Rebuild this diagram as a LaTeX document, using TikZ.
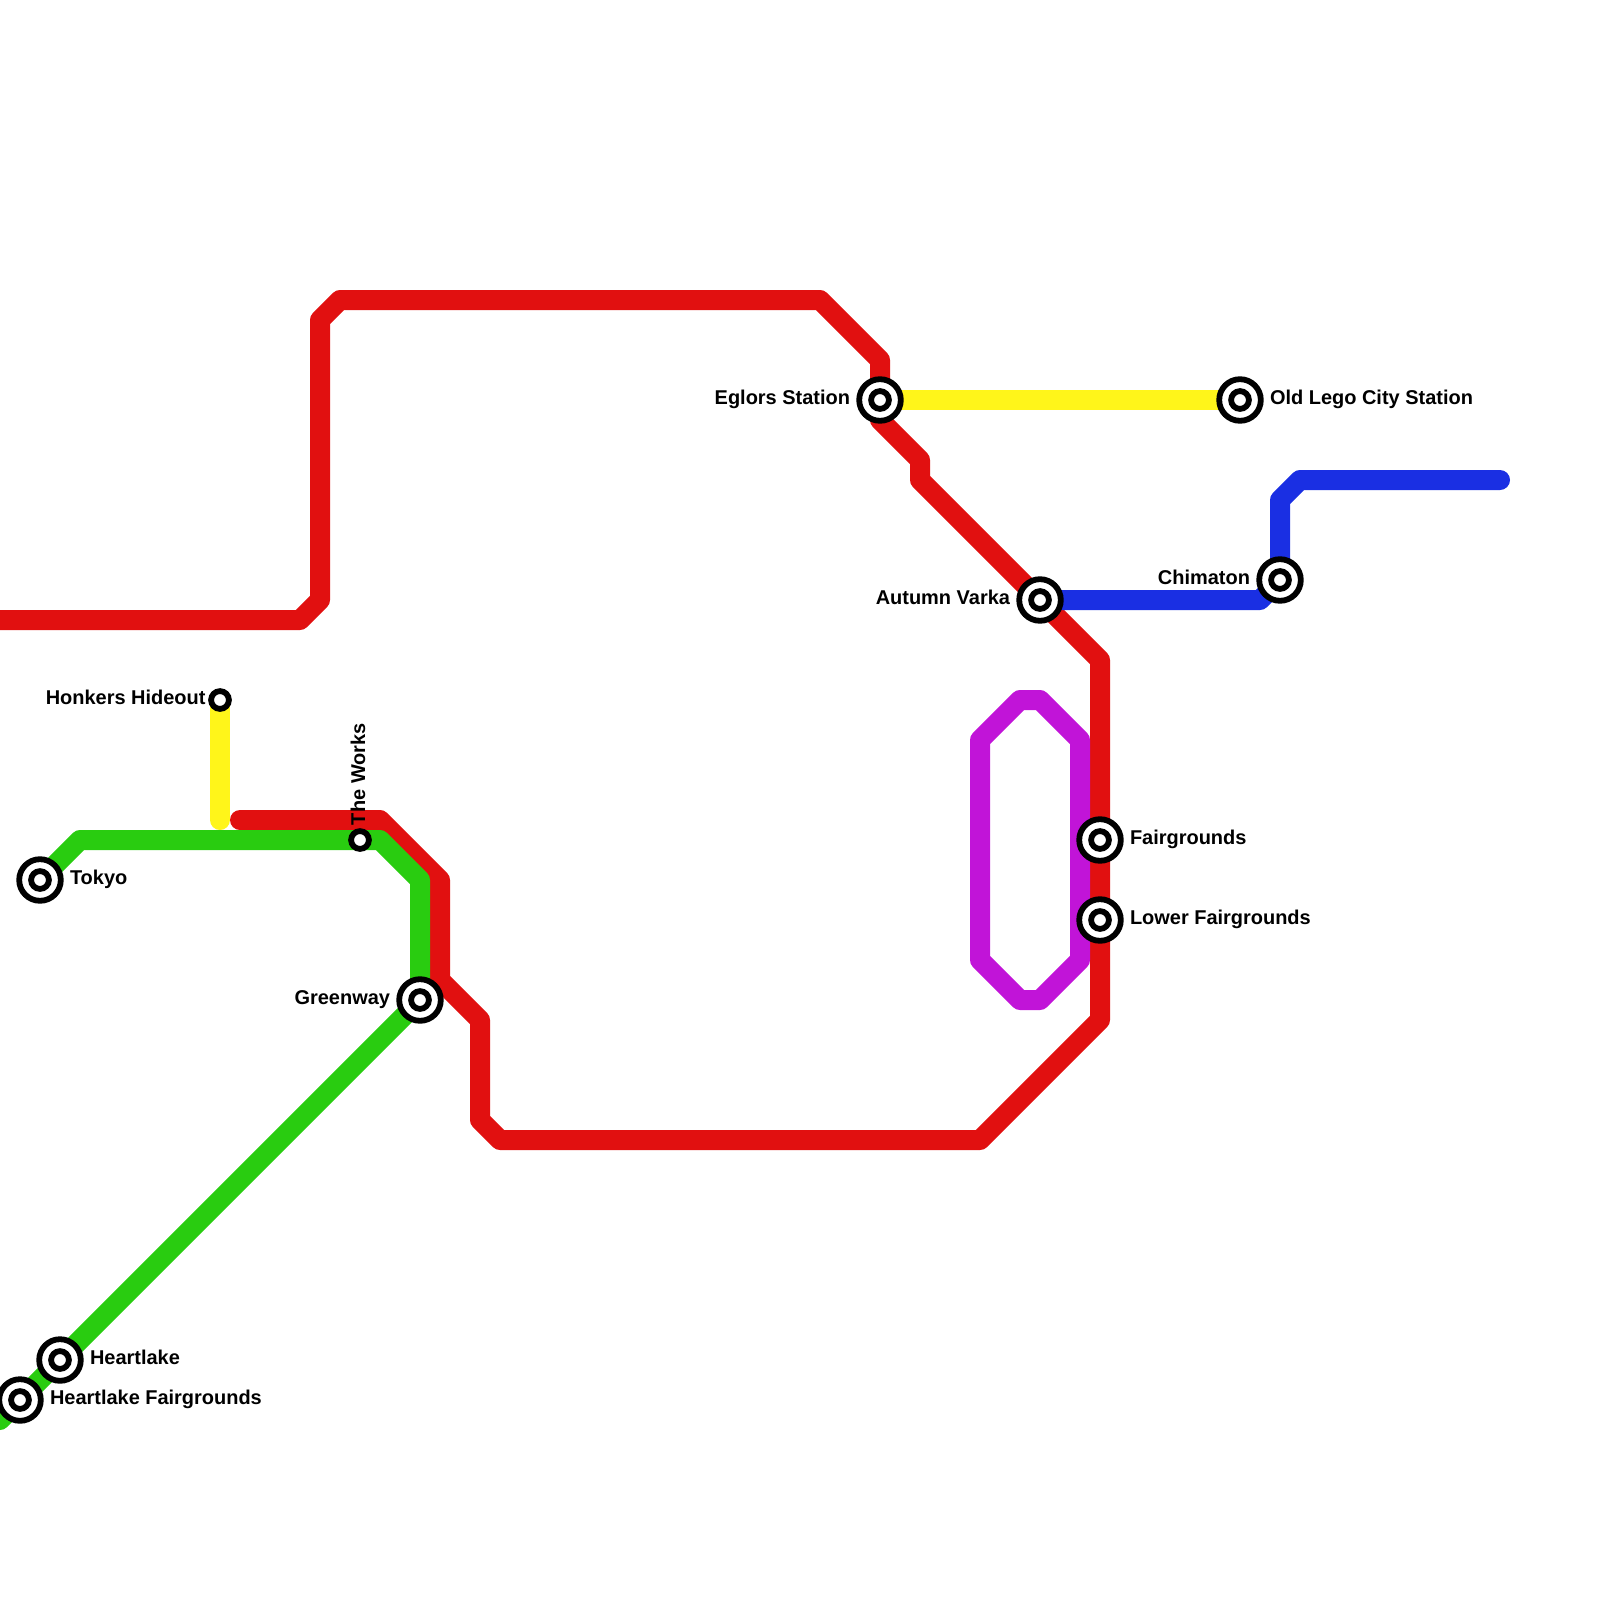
\documentclass[tikz,border=0pt]{standalone}
\usepackage{fontspec}
\setmainfont{Liberation Sans}
\usetikzlibrary{backgrounds}
\definecolor{linered}{HTML}{E11010}
\definecolor{linegreen}{HTML}{29CC10}
\definecolor{lineyellow}{HTML}{FFF51A}
\definecolor{lineblue}{HTML}{1A2FE3}
\definecolor{linepurple}{HTML}{C114D8}
\tikzset{
  metro/.style={line width=10pt,line join=round,line cap=round},
  bigstation/.style={circle,draw=black,fill=white,line width=2.9pt,minimum size=20.8pt,inner sep=0pt,outer sep=0pt,
    path picture={\draw[line width=2.9pt] (path picture bounding box.center) circle (4.45pt);}},
  smallstation/.style={circle,draw=black,fill=white,line width=2.9pt,minimum size=8.9pt,inner sep=0pt,outer sep=0pt},
  lblright/.style={anchor=base west,inner sep=0pt,outer sep=0pt,font=\fontsize{9.98}{12}\selectfont\bfseries},
  lblleft/.style={anchor=base east,inner sep=0pt,outer sep=0pt,font=\fontsize{9.98}{12}\selectfont\bfseries},
}
\begin{document}
\begin{tikzpicture}[x=0.5pt,y=-0.5pt]
\useasboundingbox (0,0) rectangle (1600,1600);
\clip (0,0) rectangle (1600,1600);
% stations
\node[bigstation] (tokyo) at (40,880) {};
\node[smallstation] (honkers) at (220,700) {};
\node[smallstation] (works) at (360,840) {};
\node[bigstation] (greenway) at (420,1000) {};
\node[bigstation] (heartlake) at (60,1360) {};
\node[bigstation] (hfair) at (20,1400) {};
\node[bigstation] (eglors) at (880,400) {};
\node[bigstation] (oldlego) at (1240,400) {};
\node[bigstation] (autumn) at (1040,600) {};
\node[bigstation] (chimaton) at (1280,580) {};
\node[bigstation] (fair) at (1100,840) {};
\node[bigstation] (lowerfair) at (1100,920) {};
% labels
\node[lblright] (l-tokyo) at (70,884.5) {Tokyo};
\node[lblleft] (l-honkers) at (205.5,704.5) {Honkers Hideout};
\node[lblright,rotate=90] (l-works) at (365,825) {The Works};
\node[lblleft] (l-greenway) at (390,1004.5) {Greenway};
\node[lblright] (l-heartlake) at (90,1364.5) {Heartlake};
\node[lblright] (l-hfair) at (50,1404.5) {Heartlake Fairgrounds};
\node[lblleft] (l-eglors) at (850,404.5) {Eglors Station};
\node[lblright] (l-oldlego) at (1270,404.5) {Old Lego City Station};
\node[lblleft] (l-autumn) at (1010,604.5) {Autumn Varka};
\node[lblleft] (l-chimaton) at (1250,584.5) {Chimaton};
\node[lblright] (l-fair) at (1130,844.5) {Fairgrounds};
\node[lblright] (l-lowerfair) at (1130,924.5) {Lower Fairgrounds};
% way points
\foreach \n/\x/\y in {
  r0/0/620,r1/300/620,r2/320/600,r3/320/320,r4/340/300,r5/820/300,r6/880/360,
  r7/880/420,r8/920/460,r9/920/480,r10/1100/660,r11/1100/1020,r12/980/1140,
  r13/500/1140,r14/480/1120,r15/480/1020,r16/440/980,r17/440/880,r18/380/820,r19/240/820,
  g0/0/1420,g1/420/880,g2/380/840,g3/80/840,
  y1/220/820,
  b1/1260/600,b2/1280/500,b3/1300/480,b4/1500/480,
  p1/980/740,p2/1020/700,p3/1040/700,p4/1080/740,p5/1080/960,p6/1040/1000,p7/1020/1000,p8/980/960}
  {\coordinate (\n) at (\x,\y);}
\begin{pgfonlayer}{background}
\clip (0,0) rectangle (1600,1600);
\draw[metro,linered] (r0) -- (r1) -- (r2) -- (r3) -- (r4) -- (r5) -- (r6) -- (eglors.center) -- (r7) -- (r8) -- (r9) -- (autumn.center) -- (r10) -- (fair.center) -- (lowerfair.center) -- (r11) -- (r12) -- (r13) -- (r14) -- (r15) -- (r16) -- (r17) -- (r18) -- (r19);
\draw[metro,lineyellow] (honkers.center) -- (y1);
\draw[metro,lineyellow] (eglors.center) -- (oldlego.center);
\draw[metro,linegreen] (g0) -- (hfair.center) -- (heartlake.center) -- (greenway.center) -- (g1) -- (g2) -- (works.center) -- (g3) -- (tokyo.center);
\draw[metro,lineblue] (autumn.center) -- (b1) -- (chimaton.center) -- (b2) -- (b3) -- (b4);
\draw[metro,linepurple] (p1) -- (p2) -- (p3) -- (p4) -- (p5) -- (p6) -- (p7) -- (p8) -- cycle;
\end{pgfonlayer}
\end{tikzpicture}
\end{document}
